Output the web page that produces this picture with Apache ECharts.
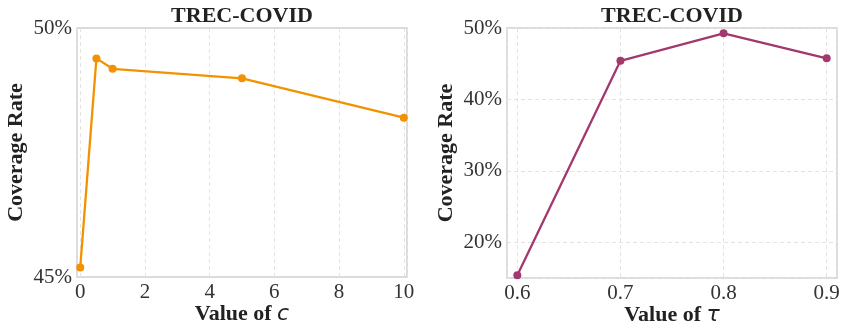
<!DOCTYPE html>
<html>
<head>
<meta charset="utf-8">
<script src="https://cdn.jsdelivr.net/npm/echarts@6/dist/echarts.min.js"></script>
<style>html,body{margin:0;padding:0;background:#fff}#c{width:847px;height:333px}</style>
</head>
<body>
<div id="c"></div>
<script>
const titleText = 'TREC-COVID';
const cValues = [0, 0.5, 1, 5, 10];
const cCoverage = [45.19, 49.39, 49.18, 48.99, 48.2];
const tauValues = [0.6, 0.7, 0.8, 0.9];
const tauCoverage = [15.4, 45.4, 49.25, 45.76];

const SERIF = '"Liberation Serif", "DejaVu Serif", serif';
const gridLine = { show: true, lineStyle: { color: '#e3e3e3', type: [4, 3], width: 1 } };
const tickLabel = { color: '#333', fontFamily: SERIF, fontSize: 21 };
const axisName = { color: '#222', fontFamily: SERIF, fontSize: 22, fontWeight: 'bold',
  rich: {
    b: { color: '#222', fontFamily: SERIF, fontSize: 22, fontWeight: 'bold' },
    i: { color: '#222', fontFamily: '"DejaVu Sans", sans-serif', fontSize: 22, fontStyle: 'italic', fontWeight: 'normal' }
  } };

const chart = echarts.init(document.getElementById('c'), null, { renderer: 'canvas' });
chart.setOption({
  animation: false,
  backgroundColor: '#fff',
  title: [
    { text: titleText, left: 242, top: 5, padding: 0, textAlign: 'center',
      textStyle: { fontFamily: SERIF, fontSize: 22, fontWeight: 'bold', color: '#222' } },
    { text: titleText, left: 672, top: 5, padding: 0, textAlign: 'center',
      textStyle: { fontFamily: SERIF, fontSize: 22, fontWeight: 'bold', color: '#222' } }
  ],
  grid: [
    { left: 77, right: 440, top: 28, bottom: 56, outerBoundsMode: 'none', containLabel: false,
      show: true, borderColor: '#cfcfcf', borderWidth: 1.5, backgroundColor: 'transparent' },
    { left: 507, right: 10, top: 28, bottom: 55, outerBoundsMode: 'none', containLabel: false,
      show: true, borderColor: '#cfcfcf', borderWidth: 1.5, backgroundColor: 'transparent' }
  ],
  xAxis: [
    { type: 'value', gridIndex: 0, min: -0.1, max: 10.1, splitNumber: 5,
      axisLine: { show: false }, axisTick: { show: false },
      axisLabel: Object.assign({ margin: 5, showMinLabel: false, showMaxLabel: false }, tickLabel),
      splitLine: gridLine,
      name: '{b|Value of }{i|c}', nameLocation: 'middle', nameGap: 26, nameMoveOverlap: false,
      nameTextStyle: axisName },
    { type: 'value', gridIndex: 1, min: 0.59, max: 0.91, splitNumber: 3,
      axisLine: { show: false }, axisTick: { show: false },
      axisLabel: Object.assign({ margin: 5, showMinLabel: false, showMaxLabel: false,
        formatter: v => v.toFixed(1) }, tickLabel),
      splitLine: gridLine,
      name: '{b|Value of }{i|τ}', nameLocation: 'middle', nameGap: 26, nameMoveOverlap: false,
      nameTextStyle: axisName }
  ],
  yAxis: [
    { type: 'value', gridIndex: 0, min: 45, max: 50, interval: 5,
      axisLine: { show: false }, axisTick: { show: false },
      axisLabel: Object.assign({ margin: 5, formatter: '{value}%' }, tickLabel),
      splitLine: { show: false },
      name: 'Coverage Rate', nameLocation: 'middle', nameGap: 50, nameTextStyle: axisName },
    { type: 'value', gridIndex: 1, min: 15, max: 50, splitNumber: 4,
      axisLine: { show: false }, axisTick: { show: false },
      axisLabel: Object.assign({ margin: 5, showMinLabel: false, formatter: '{value}%' }, tickLabel),
      splitLine: gridLine,
      name: 'Coverage Rate', nameLocation: 'middle', nameGap: 50, nameTextStyle: axisName }
  ],
  series: [
    { type: 'line', xAxisIndex: 0, yAxisIndex: 0,
      data: cValues.map((x, i) => [x, cCoverage[i]]),
      symbol: 'circle', symbolSize: 8, color: '#F39200',
      lineStyle: { width: 2.3, color: '#F39200' }, itemStyle: { color: '#F39200' } },
    { type: 'line', xAxisIndex: 1, yAxisIndex: 1,
      data: tauValues.map((x, i) => [x, tauCoverage[i]]),
      symbol: 'circle', symbolSize: 8, color: '#A3386F',
      lineStyle: { width: 2.3, color: '#A3386F' }, itemStyle: { color: '#A3386F' } }
  ]
});
</script>
</body>
</html>
